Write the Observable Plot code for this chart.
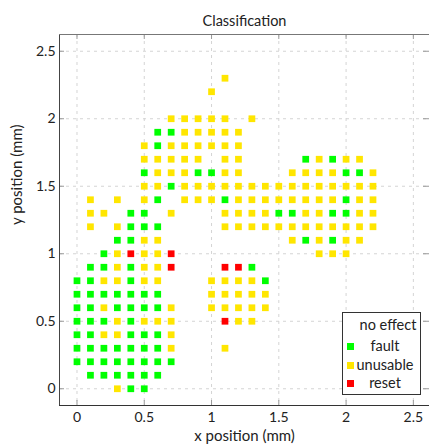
<!DOCTYPE html>
<html>
<head>
<meta charset="utf-8">
<script src="https://cdn.jsdelivr.net/npm/d3@7"></script>
<script src="https://cdn.jsdelivr.net/npm/@observablehq/plot@0.6"></script>
<style>
  html, body { margin: 0; padding: 0; background: white; }
  #wrap { position: relative; width: 429px; height: 446px; font-family: Lato, "DejaVu Sans", sans-serif; color: #222; }
  #legend { position: absolute; left: 342px; top: 312px; width: 77px; height: 81px; border: 1px solid #333; background: white; box-sizing: content-box; }
  .lg-txt { position: absolute; left: 0; width: 84px; text-align: center; font-size: 14.5px; line-height: 14px; }
  .lg-sq { position: absolute; left: 4px; width: 7px; height: 7px; }
</style>
</head>
<body>
<div id="wrap"></div>
<script>
// ---- data ----
const classes = ["fault", "unusable", "reset"];
const classColors = ["#00ff00", "#ffe600", "#ff0000"];
const legendLabels = ["no effect", "fault", "unusable", "reset"];
const xTicks = [0, 0.5, 1, 1.5, 2, 2.5];
const yTicks = [0, 0.5, 1, 1.5, 2, 2.5];

const faultPts = [
  [0.6,1.9],[0.7,1.9],
  [0.6,1.8],
  [1.7,1.7],[1.9,1.7],
  [0.5,1.6],[0.9,1.6],[1.0,1.6],[2.0,1.6],[2.1,1.6],
  [0.7,1.5],
  [0.6,1.4],[1.1,1.4],[2.0,1.4],
  [0.4,1.3],[0.5,1.3],[1.5,1.3],[1.6,1.3],[1.9,1.3],[2.0,1.3],
  [0.4,1.2],[0.5,1.2],[0.6,1.2],
  [0.3,1.1],[0.4,1.1],[1.7,1.1],[1.9,1.1],
  [0.2,1.0],
  [0.1,0.9],[0.2,0.9],[0.4,0.9],[1.3,0.9],
  [0.0,0.8],[0.1,0.8],[0.4,0.8],[1.4,0.8],
  [0.0,0.7],[0.1,0.7],[0.2,0.7],[0.3,0.7],[0.4,0.7],[0.5,0.7],[0.6,0.7],
  [0.0,0.6],[0.1,0.6],[0.3,0.6],[0.4,0.6],[0.5,0.6],[0.6,0.6],
  [0.0,0.5],[0.1,0.5],[0.2,0.5],[0.4,0.5],
  [0.0,0.4],[0.1,0.4],[0.4,0.4],[0.5,0.4],[0.6,0.4],
  [0.0,0.3],[0.1,0.3],[0.2,0.3],[0.3,0.3],[0.4,0.3],[0.5,0.3],[0.6,0.3],
  [0.0,0.2],[0.1,0.2],[0.2,0.2],[0.3,0.2],[0.4,0.2],[0.5,0.2],[0.6,0.2],[0.7,0.2],
  [0.1,0.1],[0.2,0.1],[0.3,0.1],[0.4,0.1],[0.5,0.1],[0.6,0.1],
  [0.4,0.0],[0.5,0.0]
];

const unusablePts = [
  [1.1,2.3],
  [1.0,2.2],
  [0.7,2.0],[0.8,2.0],[0.9,2.0],[1.0,2.0],[1.1,2.0],[1.3,2.0],
  [0.8,1.9],[0.9,1.9],[1.0,1.9],[1.1,1.9],[1.2,1.9],
  [0.5,1.8],[0.7,1.8],[0.8,1.8],[0.9,1.8],[1.0,1.8],[1.1,1.8],[1.2,1.8],
  [0.5,1.7],[0.6,1.7],[0.7,1.7],[0.8,1.7],[0.9,1.7],[1.1,1.7],[1.2,1.7],[1.8,1.7],[2.0,1.7],[2.1,1.7],
  [0.6,1.6],[0.7,1.6],[0.8,1.6],[1.1,1.6],[1.2,1.6],[1.6,1.6],[1.7,1.6],[1.8,1.6],[1.9,1.6],[2.2,1.6],
  [0.5,1.5],[0.6,1.5],[0.8,1.5],[0.9,1.5],[1.0,1.5],[1.1,1.5],[1.2,1.5],[1.3,1.5],[1.4,1.5],[1.5,1.5],[1.6,1.5],[1.7,1.5],[1.8,1.5],[1.9,1.5],[2.0,1.5],[2.1,1.5],[2.2,1.5],
  [0.1,1.4],[0.3,1.4],[0.5,1.4],[0.8,1.4],[0.9,1.4],[1.0,1.4],[1.2,1.4],[1.3,1.4],[1.4,1.4],[1.5,1.4],[1.6,1.4],[1.7,1.4],[1.8,1.4],[1.9,1.4],[2.1,1.4],[2.2,1.4],
  [0.1,1.3],[0.2,1.3],[0.7,1.3],[1.1,1.3],[1.2,1.3],[1.3,1.3],[1.4,1.3],[1.7,1.3],[1.8,1.3],[2.1,1.3],[2.2,1.3],
  [0.1,1.2],[0.3,1.2],[1.1,1.2],[1.2,1.2],[1.3,1.2],[1.4,1.2],[1.5,1.2],[1.6,1.2],[1.7,1.2],[1.8,1.2],[1.9,1.2],[2.0,1.2],[2.1,1.2],[2.2,1.2],
  [0.5,1.1],[0.6,1.1],[1.6,1.1],[1.8,1.1],[2.0,1.1],[2.1,1.1],
  [0.3,1.0],[0.5,1.0],[0.6,1.0],[1.8,1.0],[1.9,1.0],[2.0,1.0],
  [0.3,0.9],[0.5,0.9],[0.6,0.9],
  [0.2,0.8],[0.3,0.8],[0.5,0.8],[0.6,0.8],[1.0,0.8],[1.1,0.8],[1.2,0.8],[1.3,0.8],
  [1.0,0.7],[1.1,0.7],[1.2,0.7],[1.3,0.7],[1.4,0.7],
  [0.2,0.6],[0.7,0.6],[1.0,0.6],[1.1,0.6],[1.2,0.6],[1.3,0.6],[1.4,0.6],
  [0.3,0.5],[0.5,0.5],[0.6,0.5],[0.7,0.5],[1.2,0.5],[1.3,0.5],
  [0.2,0.4],[0.3,0.4],[0.7,0.4],
  [0.7,0.3],[1.1,0.3],
  [0.3,0.0]
];

const resetPts = [
  [0.4,1.0],[0.7,1.0],[0.7,0.9],[1.1,0.9],[1.2,0.9],[1.1,0.5]
];

// ---- build table ----
const points = [
  ...faultPts.map(([x, y]) => ({x, y, cls: "fault"})),
  ...unusablePts.map(([x, y]) => ({x, y, cls: "unusable"})),
  ...resetPts.map(([x, y]) => ({x, y, cls: "reset"}))
];

const xDom = [-0.13, 2.62];
const yDom = [-0.124, 2.624];
const fmt = d => String(d);
const FW = 429 - 59 - 0;   // frame width
const FH = 446 - 34 - 41;  // frame height

const chart = Plot.plot({
  width: 429,
  height: 446,
  marginLeft: 59,
  marginRight: 0,
  marginTop: 34,
  marginBottom: 41,
  x: {domain: xDom},
  y: {domain: yDom},
  color: {domain: classes, range: classColors},
  style: {fontFamily: "Lato, 'DejaVu Sans', sans-serif", fontSize: "14px", color: "#222", background: "white", overflow: "visible"},
  marks: [
    Plot.ruleX(xTicks, {x: d => d, stroke: "#d4d4d4", strokeDasharray: "3,4"}),
    Plot.ruleY(yTicks, {y: d => d, stroke: "#d4d4d4", strokeDasharray: "3,4"}),
    Plot.dot(points, {x: "x", y: "y", fill: "cls", symbol: "square", r: 3.8}),
    Plot.tickX(xTicks, {x: d => d, insetTop: FH - 5, stroke: "#999"}),
    Plot.tickX(xTicks, {x: d => d, insetBottom: FH - 5, stroke: "#999"}),
    Plot.tickY(yTicks, {y: d => d, insetRight: FW - 5, stroke: "#999"}),
    Plot.tickY(yTicks, {y: d => d, insetLeft: FW - 6, stroke: "#999"}),
    Plot.ruleX([xDom[0]], {x: d => d, stroke: "#444"}),
    Plot.ruleY([yDom[0]], {y: d => d, stroke: "#333"}),
    Plot.ruleY([yDom[1]], {y: d => d, stroke: "#777"}),
    Plot.axisX({ticks: xTicks, tickSize: 0, tickPadding: 7, tickFormat: fmt, label: null, fontSize: 14}),
    Plot.axisY({ticks: yTicks, tickSize: 0, tickPadding: 4, tickFormat: fmt, label: null, fontSize: 14}),
    Plot.text(["Classification"], {text: d => d, frameAnchor: "top", dy: -19, fontSize: 14.5}),
    Plot.text(["x position (mm)"], {text: d => d, frameAnchor: "bottom", dy: 35, fontSize: 15}),
    Plot.text(["y position (mm)"], {text: d => d, frameAnchor: "left", dx: -42, dy: 5, rotate: -90, fontSize: 15})
  ]
});

const wrap = document.getElementById("wrap");
wrap.appendChild(chart);

// legend (inside the plot, drawn as HTML)
const legend = document.createElement("div");
legend.id = "legend";
const rowsY = [5, 26, 45, 63];
const legendColors = [null, ...classColors];
legendLabels.forEach((lab, i) => {
  const t = document.createElement("div");
  t.className = "lg-txt";
  t.style.top = rowsY[i] + "px";
  t.textContent = lab;
  if (i === 0) { t.style.left = "0px"; t.style.width = "90px"; }
  legend.appendChild(t);
  if (legendColors[i]) {
    const s = document.createElement("div");
    s.className = "lg-sq";
    s.style.top = (rowsY[i] + 4) + "px";
    s.style.background = legendColors[i];
    legend.appendChild(s);
  }
});
wrap.appendChild(legend);
</script>
</body>
</html>
